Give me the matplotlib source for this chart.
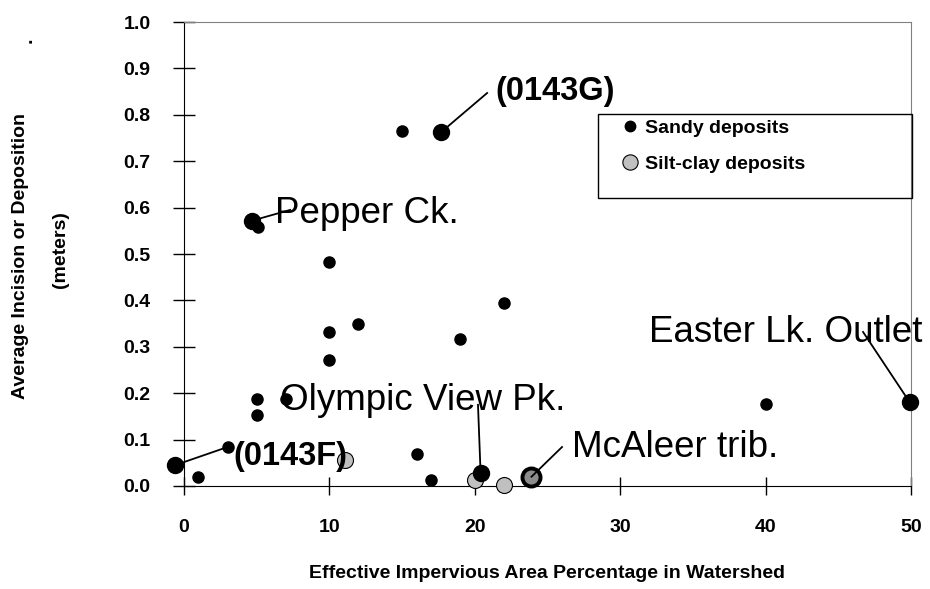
import numpy as np
import matplotlib.pyplot as plt
from matplotlib.lines import Line2D
from matplotlib.patches import Rectangle
from matplotlib.ticker import MultipleLocator, FormatStrFormatter

plt.rcParams['font.family'] = ['Liberation Sans', 'DejaVu Sans']

# sandy deposits (small black dots)
sandy_x = [1.0, 3.0, 5.0, 5.0, 5.1, 7.0, 10.0, 10.0, 10.0, 12.0, 15.0, 16.0, 17.0, 19.0, 22.0, 40.0]
sandy_y = [0.019, 0.084, 0.187, 0.153, 0.558, 0.187, 0.483, 0.332, 0.272, 0.349, 0.765, 0.069, 0.013, 0.317, 0.395, 0.176]

# named sandy sites (large black dots)
named_x = [-0.6, 4.7, 17.7, 20.4, 49.9]
named_y = [0.045, 0.572, 0.763, 0.028, 0.181]

# silt-clay deposits (grey)
silt_x = [11.1, 20.0, 22.0]
silt_y = [0.056, 0.013, 0.002]
mcaleer_x = [23.9]
mcaleer_y = [0.020]

# callouts: text, point, end of leader, text anchor (left, baseline), bold
callouts = [
    ('(0143F)', (-0.6, 0.045), (3.0, 0.084), (3.4, 0.045), True),
    ('Pepper Ck.', (4.7, 0.572), (7.3, 0.595), (6.26, 0.567), False),
    ('(0143G)', (17.7, 0.763), (20.85, 0.847), (21.4, 0.832), True),
    ('Olympic View Pk.', (20.4, 0.028), (20.22, 0.175), (6.6, 0.164), False),
    ('McAleer trib.', (23.9, 0.020), (26.0, 0.084), (26.7, 0.0625), False),
    ('Easter Lk. Outlet', (49.9, 0.181), (46.7, 0.332), (32.0, 0.310), False),
]

fig = plt.figure(figsize=(9.3, 5.89), dpi=100)
ax = fig.add_axes([0.1978, 0.1749, 0.7818, 0.7877])

ax.plot(silt_x, silt_y, 'o', ms=11.5, mfc='#c0c0c0', mec='black', mew=0.8, clip_on=False, zorder=3)
ax.plot(mcaleer_x, mcaleer_y, 'o', ms=13, mfc='#8c8c8c', mec='black', mew=2.8, clip_on=False, zorder=3)
ax.plot(sandy_x, sandy_y, 'o', ms=8, color='black', mec='black', clip_on=False, zorder=4)
ax.plot(named_x, named_y, 'o', ms=11.5, color='black', clip_on=False, zorder=4)

for name, pt, end, pos, bold in callouts:
    ax.plot([pt[0], end[0]], [pt[1], end[1]], color='black', lw=1.3, clip_on=False, zorder=5)
    ax.text(pos[0], pos[1], name, fontsize=23.5 if bold else 26.5,
            fontweight='bold' if bold else 'normal', va='baseline', ha='left', zorder=6)

ax.set_xlim(0, 50)
ax.set_ylim(0, 1.0)
ax.xaxis.set_major_locator(MultipleLocator(10))
ax.yaxis.set_major_locator(MultipleLocator(0.1))
ax.yaxis.set_major_formatter(FormatStrFormatter('%.1f'))

ax.tick_params(axis='y', direction='inout', length=16, width=1, pad=16, labelsize=14)
ax.tick_params(axis='x', direction='inout', length=13, width=1, pad=17, labelsize=14)
for lab in ax.get_xticklabels() + ax.get_yticklabels():
    lab.set_fontweight('bold')

for s in ['top', 'right']:
    ax.spines[s].set_color('#808080')
for s in ['left', 'bottom']:
    ax.spines[s].set_color('black')

ax.set_xlabel('Effective Impervious Area Percentage in Watershed', fontsize=14,
              fontweight='bold', labelpad=21)

fig.text(21 / 930, 1 - 256 / 589, 'Average Incision or Deposition', rotation=90,
         fontsize=14, fontweight='bold', ha='center', va='center')
fig.text(27 / 930, 1 - 40 / 589, '.', rotation=90,
         fontsize=14, fontweight='bold', ha='center', va='center')
fig.text(60 / 930, 1 - 250 / 589, '(meters)', rotation=90,
         fontsize=14, fontweight='bold', ha='center', va='center')

# legend with a box matching the original frame
ax.add_patch(Rectangle((0.5695, 0.6207), 0.432, 0.181, transform=ax.transAxes,
                       fill=False, edgecolor='black', lw=1, clip_on=False, zorder=6))
handles = [
    Line2D([], [], ls='none', marker='o', ms=7.5, color='black'),
    Line2D([], [], ls='none', marker='o', ms=11, mfc='#c0c0c0', mec='black', mew=0.8),
]
ax.legend(handles, ['Sandy deposits', 'Silt-clay deposits'], loc='upper left',
          bbox_to_anchor=(0.6, 0.79), frameon=False, borderpad=0, borderaxespad=0,
          handlelength=1.0, handletextpad=0.3, labelspacing=0.95,
          prop={'weight': 'bold', 'size': 14})

fig.savefig('out.png', dpi=100)
